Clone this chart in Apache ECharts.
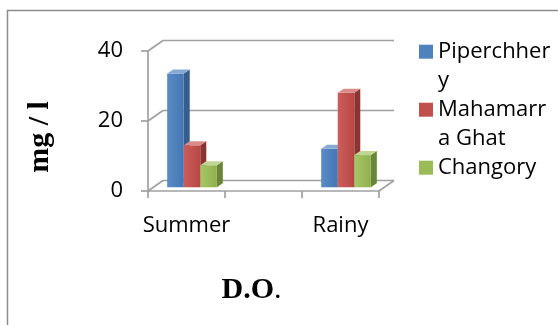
<!DOCTYPE html>
<html>
<head>
<meta charset="utf-8">
<script src="https://cdn.jsdelivr.net/npm/echarts@6/dist/echarts.min.js"></script>
<style>
  html, body { margin: 0; padding: 0; background: #fff; }
  #chart { width: 558px; height: 325px; }
</style>
</head>
<body>
<div id="chart"></div>
<script>
// Dissolved oxygen by season and site
const seasons = ['Summer', 'Rainy'];
const seriesNames = ['Piperchhery', 'Mahamarra Ghat', 'Changory'];
const piperchhery = [32.5, 11];
const mahamarraGhat = [12, 27];
const changory = [6.3, 9.2];
const yTicks = [0, 20, 40];
const yAxisTitle = 'mg / l';
const xAxisTitle = 'D.O.';

// Legend labels wrap inside the narrow legend column; the leading blank
// line keeps the first text line level with the colour key
const legendLabels = {
  'Piperchhery': '\nPiperchher\ny',
  'Mahamarra Ghat': '\nMahamarr\na Ghat',
  'Changory': '\nChangory\n'
};

// The category axis keeps an empty slot between the two seasons
const slots = [seasons[0], '', seasons[1]];
const slotOfSeason = [0, 2];
const seriesValues = [piperchhery, mahamarraGhat, changory];

// Pseudo-3D geometry (pixels)
const WALL_DX = 15, WALL_DY = 10.5;   // depth of the back wall
const BAR_DX = 5.5, BAR_DY = 3.7;     // bars sit part-way into the depth
const SIDE_DX = 6, SIDE_DY = 4;       // bar side/top faces
const BAR_FRAC = 0.215;               // bar width as share of a slot
const LINE = '#a0a0a0';
const LH = 29;                        // legend line height

const palette = [
  { base: '#4F81BD', front: ['#5b8cc8', '#4576b3'], side: '#365d8c', top: '#86a9d6' },
  { base: '#C0504D', front: ['#cb5d5a', '#b84845'], side: '#8a3331', top: '#d98c8a' },
  { base: '#9BBB59', front: ['#a7c767', '#8fb04d'], side: '#6a8539', top: '#c0d693' }
];

function frameRenderer(params, api) {
  const c0 = api.coord([0, yTicks[0]]);
  const band = api.size([1, 0])[0];
  const xL = c0[0] - band / 2;
  const xR = xL + band * slots.length;
  const lines = [];
  yTicks.forEach(function (t) {
    const y = api.coord([0, t])[1];
    lines.push([[xL, y], [xL + WALL_DX, y - WALL_DY]]);
    lines.push([[xL + WALL_DX, y - WALL_DY], [xR + WALL_DX, y - WALL_DY]]);
  });
  lines.push([[xR, c0[1]], [xR + WALL_DX, c0[1] - WALL_DY]]);
  return {
    type: 'group',
    children: lines.map(function (p) {
      return { type: 'polyline', shape: { points: p }, style: { stroke: LINE, lineWidth: 1.7, fill: null } };
    })
  };
}

function barRenderer(k) {
  return function (params, api) {
    const slot = api.value(0), v = api.value(1);
    const base = api.coord([slot, 0]);
    const top = api.coord([slot, v]);
    const band = api.size([1, 0])[0];
    const w = band * BAR_FRAC;
    const x0 = base[0] - 1.5 * w + k * w + BAR_DX;
    const x1 = x0 + w;
    const yb = base[1] - BAR_DY, yt = top[1] - BAR_DY;
    const c = palette[k];
    return {
      type: 'group',
      children: [
        { type: 'polygon',
          shape: { points: [[x1, yt], [x1 + SIDE_DX, yt - SIDE_DY], [x1 + SIDE_DX, yb - SIDE_DY], [x1, yb]] },
          style: { fill: c.side } },
        { type: 'rect',
          shape: { x: x0, y: yt, width: w, height: yb - yt },
          style: { fill: new echarts.graphic.LinearGradient(0, 0, 1, 0, [
            { offset: 0, color: c.front[0] }, { offset: 1, color: c.front[1] }]) } },
        { type: 'polygon',
          shape: { points: [[x0, yt], [x0 + SIDE_DX, yt - SIDE_DY], [x1 + SIDE_DX, yt - SIDE_DY], [x1, yt]] },
          style: { fill: c.top } }
      ]
    };
  };
}

const barSeries = seriesNames.map(function (name, k) {
  return {
    name: name,
    type: 'custom',
    coordinateSystem: 'cartesian2d',
    renderItem: barRenderer(k),
    itemStyle: { color: palette[k].base },
    encode: { x: 0, y: 1 },
    data: seriesValues[k].map(function (v, i) { return [slotOfSeason[i], v]; }),
    z: 3
  };
});

const chart = echarts.init(document.getElementById('chart'), null, { renderer: 'canvas' });
chart.setOption({
  animation: false,
  backgroundColor: '#fff',
  grid: { left: 148, top: 51, width: 231, height: 140 },
  xAxis: {
    type: 'category',
    data: slots,
    boundaryGap: true,
    axisLine: { lineStyle: { color: LINE, width: 1.7 } },
    axisTick: { show: true, interval: 0, length: 7, inside: false, lineStyle: { color: LINE, width: 1.7 } },
    axisLabel: { interval: 0, margin: 24, fontFamily: 'Open Sans', fontSize: 22, lineHeight: 22, color: '#000' },
    splitLine: { show: false }
  },
  yAxis: {
    type: 'value',
    min: yTicks[0],
    max: yTicks[yTicks.length - 1],
    interval: yTicks[1] - yTicks[0],
    axisLine: { show: true, lineStyle: { color: LINE, width: 1.7 } },
    axisTick: { show: true, length: 7, lineStyle: { color: LINE, width: 1.7 } },
    axisLabel: { margin: 25, fontFamily: 'Open Sans', fontSize: 22, color: '#000' },
    splitLine: { show: false }
  },
  legend: {
    orient: 'vertical',
    left: 419,
    top: 51.7 - 1.5 * LH,
    padding: 0,
    itemWidth: 14,
    itemHeight: 14,
    itemGap: -LH,
    icon: 'rect',
    selectedMode: false,
    formatter: function (name) { return legendLabels[name]; },
    textStyle: { fontFamily: 'Open Sans', fontSize: 22, lineHeight: LH, color: '#000' },
    data: seriesNames
  },
  graphic: [
    { type: 'rect', silent: true, z: -10,
      shape: { x: 7.5, y: 10.5, width: 700, height: 500 },
      style: { fill: null, stroke: '#8c8c8c', lineWidth: 1.5 } },
    { type: 'text', silent: true, x: 40.5, y: 137, rotation: Math.PI / 2,
      style: { text: yAxisTitle, fontFamily: 'Liberation Serif', fontWeight: 'bold', fontSize: 30,
               fill: '#000', align: 'center', verticalAlign: 'middle' } },
    { type: 'text', silent: true, x: 251.5, y: 290,
      style: {
        text: '{b|' + xAxisTitle.slice(0, -1) + '}{r|' + xAxisTitle.slice(-1) + '}',
        rich: {
          b: { fontFamily: 'Liberation Serif', fontWeight: 'bold', fontSize: 30, fill: '#000' },
          r: { fontFamily: 'Liberation Serif', fontWeight: 'normal', fontSize: 30, fill: '#000' }
        },
        align: 'center', verticalAlign: 'middle', fill: '#000'
      } }
  ],
  series: [{
    name: 'frame',
    type: 'custom',
    coordinateSystem: 'cartesian2d',
    renderItem: frameRenderer,
    silent: true,
    data: [[0, 0]],
    z: 1
  }].concat(barSeries)
});
</script>
</body>
</html>
